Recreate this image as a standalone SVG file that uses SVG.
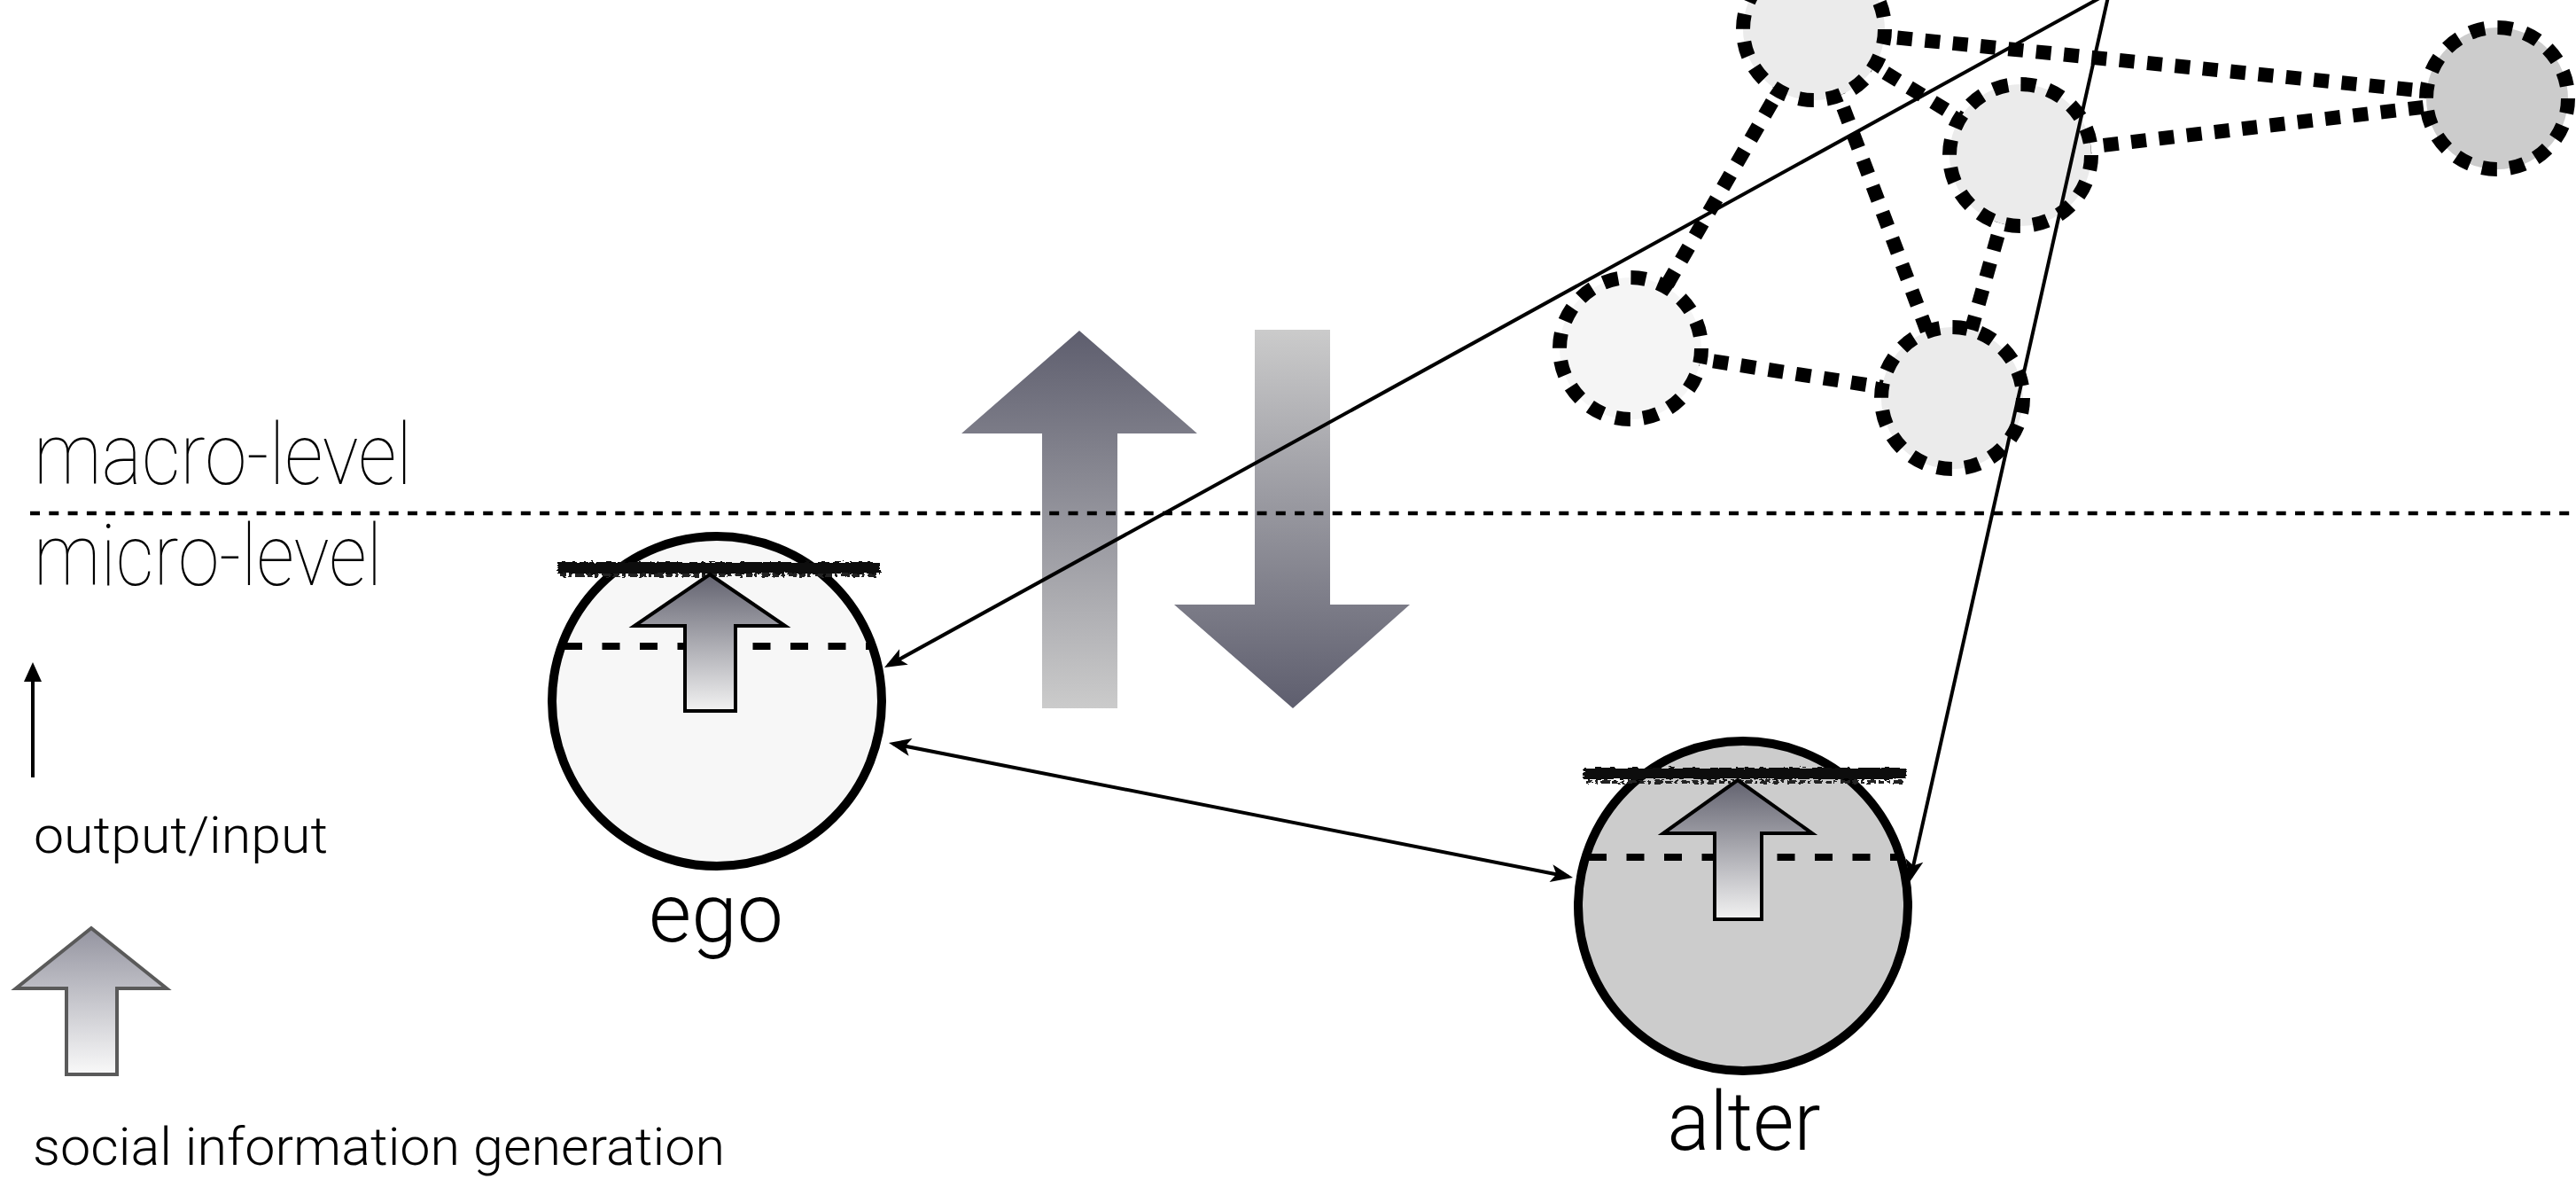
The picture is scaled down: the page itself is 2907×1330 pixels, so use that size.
<svg xmlns="http://www.w3.org/2000/svg" width="2907" height="1330" viewBox="0 0 2907 1330">
<style>
.thin{font-family:"Roboto","Inter","Liberation Sans",sans-serif;font-weight:100;fill:#000}
.light{font-family:"Roboto","Inter","Liberation Sans",sans-serif;font-weight:300;fill:#000}
.net{stroke:#000;stroke-width:16;stroke-dasharray:17 14.4}
.edge{fill:none;stroke:#000;stroke-width:16;stroke-dasharray:17 14.5}
.conn{fill:none;stroke:#000;stroke-width:4}
.person{stroke:#000;stroke-width:10}
.split{stroke:#000;stroke-width:8;stroke-dasharray:20 22.5}
.inner{stroke:#000;stroke-width:4;stroke-linejoin:miter;fill:url(#gInner)}
</style>
<defs>
<linearGradient id="gUp" x1="0" y1="0" x2="0" y2="1"><stop offset="0" stop-color="#5e5e6e"/><stop offset="1" stop-color="#cbcbcb"/></linearGradient>
<linearGradient id="gDown" x1="0" y1="0" x2="0" y2="1"><stop offset="0" stop-color="#cbcbcb"/><stop offset="1" stop-color="#5e5e6e"/></linearGradient>
<linearGradient id="gInner" x1="0" y1="0" x2="0" y2="1"><stop offset="0" stop-color="#62626f"/><stop offset="1" stop-color="#f2f2f2"/></linearGradient>
<linearGradient id="gLegend" x1="0" y1="0" x2="0" y2="1"><stop offset="0" stop-color="#9494a0"/><stop offset="1" stop-color="#f9f9f9"/></linearGradient>
<marker id="head" markerUnits="userSpaceOnUse" viewBox="-24 -12 30 24" markerWidth="30" markerHeight="24" refX="0" refY="0" orient="auto-start-reverse" overflow="visible">
<path d="M5,0 L-20,-10 L-14,0 L-20,10 Z" fill="#000"/>
</marker>
<marker id="headSimple" markerUnits="userSpaceOnUse" viewBox="-20 -12 26 24" markerWidth="26" markerHeight="24" refX="0" refY="0" orient="auto" overflow="visible">
<path d="M4,0 L-18,-10 L-18,10 Z" fill="#000"/>
</marker>
<filter id="rough" x="-5%" y="-150%" width="110%" height="400%">
<feTurbulence type="fractalNoise" baseFrequency="0.12 0.5" numOctaves="2" seed="4" result="n"/>
<feDisplacementMap in="SourceGraphic" in2="n" scale="6" xChannelSelector="R" yChannelSelector="G"/>
</filter>
</defs>

<rect x="0" y="0" width="2907" height="1330" fill="#fff"/>

<!-- big vertical arrows -->
<g id="arrow-up-macro">
<polygon points="1218,373 1351,489 1261,489 1261,799 1176,799 1176,489 1085,489" fill="url(#gUp)"/>
</g>
<g id="arrow-down-micro">
<polygon points="1416,372 1501,372 1501,682 1591,682 1459,799 1325,682 1416,682" fill="url(#gDown)"/>
</g>

<!-- level divider -->
<g id="level-divider">
<line x1="34" y1="579" x2="2907" y2="579" stroke="#000" stroke-width="4.5" stroke-dasharray="11 10.3"/>
<text class="thin" x="38" y="546" font-size="97" textLength="427" lengthAdjust="spacingAndGlyphs">macro-level</text>
<text class="thin" x="38" y="660" font-size="97" textLength="393" lengthAdjust="spacingAndGlyphs">micro-level</text>
</g>

<!-- network edges -->
<g id="network-edges">
<line class="edge" x1="2047" y1="33" x2="2818" y2="111"/>
<line class="edge" x1="2280" y1="175" x2="2818" y2="111"/>
<line class="edge" x1="2047" y1="33" x2="2280" y2="175"/>
<line class="edge" x1="2047" y1="33" x2="2203" y2="449"/>
<line class="edge" x1="2047" y1="33" x2="1840" y2="393"/>
<line class="edge" x1="2280" y1="175" x2="2203" y2="449"/>
<line class="edge" x1="1840" y1="393" x2="2203" y2="449"/>
</g>

<!-- network nodes -->
<g id="net-a"><circle class="net" cx="2047" cy="33" r="80" fill="#ebebeb"/></g>
<g id="net-c"><circle class="net" cx="2280" cy="175" r="80" fill="#ebebeb"/></g>
<g id="net-e"><circle class="net" cx="2818" cy="111" r="80" fill="#cccccc"/></g>
<g id="net-b"><circle class="net" cx="1840" cy="393" r="80" fill="#f5f5f5"/></g>
<g id="net-d"><circle class="net" cx="2203" cy="449" r="80" fill="#ebebeb"/></g>

<!-- ego -->
<g id="ego">
<circle class="person" cx="809" cy="791" r="186" fill="#f7f7f7"/>
<line class="split" x1="637" y1="729" x2="987" y2="729"/>
<g filter="url(#rough)">
<rect x="629" y="634" width="364" height="13" fill="#111"/>
<line x1="632" y1="649" x2="990" y2="649" stroke="#222" stroke-width="4" stroke-dasharray="7 3 3 4 10 3"/>
</g>
<polygon class="inner" points="801,648 886,706 830,706 830,802 773,802 773,706 716,706"/>
<text class="light" x="808" y="1062" font-size="92" text-anchor="middle" textLength="152" lengthAdjust="spacingAndGlyphs">ego</text>
</g>

<!-- alter -->
<g id="alter">
<circle class="person" cx="1967" cy="1022" r="186" fill="#cccccc"/>
<line class="split" x1="1793" y1="967" x2="2148" y2="967"/>
<g filter="url(#rough)">
<rect x="1787" y="866" width="364" height="13" fill="#111"/>
<line x1="1790" y1="882" x2="2150" y2="882" stroke="#222" stroke-width="4" stroke-dasharray="7 3 3 4 10 3"/>
</g>
<polygon class="inner" points="1961,880 2045,940 1988,940 1988,1037 1935,1037 1935,940 1877,940"/>
<text class="light" x="1968" y="1297" font-size="92" text-anchor="middle" textLength="173" lengthAdjust="spacingAndGlyphs">alter</text>
</g>

<!-- legend -->
<g id="legend-output-input">
<line class="conn" x1="37" y1="877" x2="37" y2="751" marker-end="url(#headSimple)"/>
<text class="light" x="38" y="962" font-size="58" textLength="332" lengthAdjust="spacingAndGlyphs">output/input</text>
</g>
<g id="legend-social-information">
<polygon points="103,1047 188,1115 132,1115 132,1212 75,1212 75,1115 18,1115" fill="url(#gLegend)" stroke="#5a5a5a" stroke-width="4"/>
<text class="light" x="37" y="1314" font-size="60" textLength="781" lengthAdjust="spacingAndGlyphs">social information generation</text>
</g>

<!-- connectors -->
<g id="connectors">
<line class="conn" x1="2380" y1="-8" x2="1002.4" y2="750.6" marker-end="url(#head)"/>
<line class="conn" x1="2380" y1="-8" x2="2156.1" y2="990.1" marker-end="url(#head)"/>
<line class="conn" x1="1007.9" y1="839" x2="1770.1" y2="989" marker-start="url(#head)" marker-end="url(#head)"/>
</g>
</svg>
